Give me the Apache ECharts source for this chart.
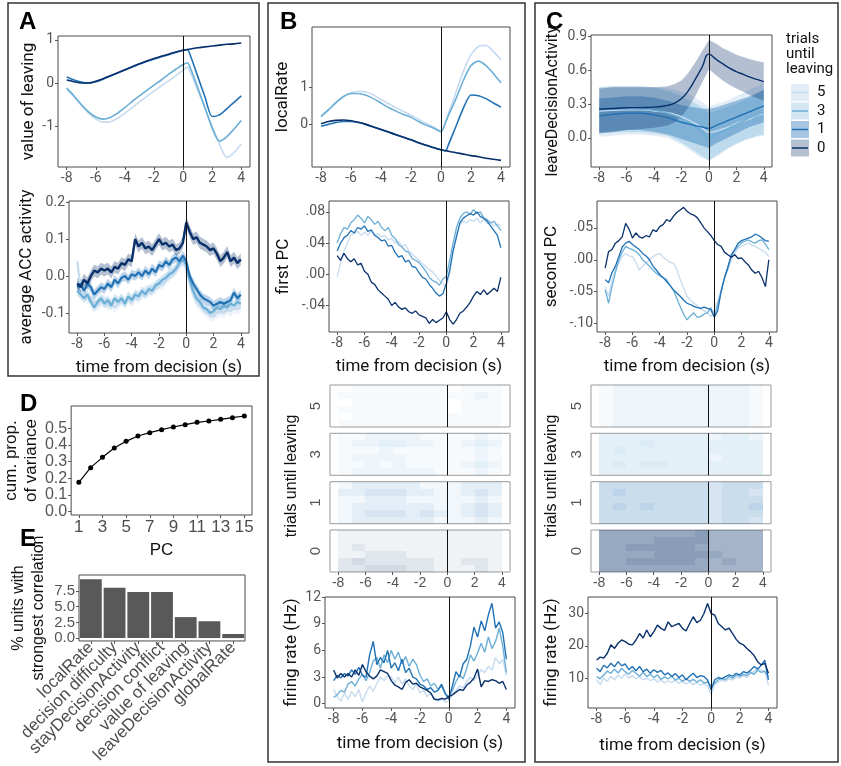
<!DOCTYPE html>
<html><head><meta charset="utf-8">
<script src="https://cdn.jsdelivr.net/npm/echarts@6/dist/echarts.min.js"></script>
<style>html,body{margin:0;padding:0;background:#fff}#c{width:841px;height:766px}</style>
</head><body><div id="c"></div>
<script>
// ---------------- DATA ----------------
const timeTicks = [-8,-6,-4,-2,0,2,4];
// smooth model curves (A top, B top)
const tS = [-8,-7.5,-7,-6.5,-6,-5.5,-5,-4.5,-4,-3.5,-3,-2.5,-2,-1.5,-1,-0.5,0,0.3,0.5,1,1.5,2,2.5,3,3.5,4];
const valueLeave0 = [0.07,0.03,0.0,0.0,0.04,0.1,0.17,0.24,0.31,0.38,0.45,0.51,0.57,0.62,0.67,0.72,0.76,0.78,0.79,0.82,0.84,0.86,0.88,0.9,0.91,0.93];
const valueLeave1 = [0.14,0.07,0.02,0.0,0.03,0.09,0.16,0.23,0.3,0.37,0.44,0.5,0.56,0.61,0.66,0.71,0.76,0.78,0.64,0.16,-0.32,-0.78,-0.74,-0.6,-0.45,-0.3];
const valueLeave3 = [-0.12,-0.3,-0.5,-0.67,-0.79,-0.84,-0.8,-0.7,-0.57,-0.43,-0.3,-0.17,-0.05,0.07,0.2,0.32,0.43,0.47,0.35,-0.1,-0.57,-1.05,-1.35,-1.25,-1.07,-0.87];
const valueLeave5 = [-0.15,-0.32,-0.52,-0.7,-0.84,-0.91,-0.9,-0.82,-0.7,-0.57,-0.44,-0.31,-0.19,-0.07,0.05,0.17,0.3,0.37,0.25,-0.17,-0.58,-1.0,-1.42,-1.73,-1.62,-1.42];
const localRate0 = [0.02,0.08,0.11,0.12,0.1,0.06,0.0,-0.07,-0.14,-0.21,-0.28,-0.35,-0.42,-0.5,-0.57,-0.63,-0.69,-0.71,-0.73,-0.77,-0.81,-0.85,-0.88,-0.92,-0.95,-0.98];
const localRate1 = [-0.05,0.0,0.05,0.08,0.08,0.05,0.0,-0.07,-0.14,-0.21,-0.28,-0.35,-0.42,-0.5,-0.57,-0.63,-0.69,-0.72,-0.55,-0.05,0.45,0.8,0.78,0.7,0.58,0.47];
const localRate3 = [0.22,0.4,0.6,0.76,0.84,0.84,0.79,0.7,0.58,0.46,0.36,0.27,0.19,0.08,-0.02,-0.1,-0.2,0.05,0.25,0.7,1.2,1.6,1.72,1.6,1.38,1.13];
const localRate5 = [0.2,0.38,0.58,0.75,0.86,0.9,0.88,0.8,0.68,0.56,0.45,0.35,0.25,0.14,0.03,-0.07,-0.18,0.05,0.3,0.88,1.45,1.9,2.12,2.15,1.98,1.76];
// C top model with ribbons
const tC = [-8,-7,-6,-5,-4,-3,-2.5,-2,-1.5,-1,-0.5,0,0.5,1,1.5,2,2.5,3,3.5,4];
const leaveAct0 = [0.255,0.262,0.268,0.27,0.274,0.29,0.31,0.35,0.42,0.52,0.63,0.745,0.70,0.66,0.62,0.59,0.565,0.54,0.52,0.5];
const leaveAct0Lo = [0.04,0.05,0.07,0.08,0.09,0.11,0.14,0.19,0.27,0.37,0.49,0.61,0.56,0.51,0.47,0.44,0.41,0.38,0.355,0.33];
const leaveAct0Hi = [0.44,0.45,0.45,0.45,0.45,0.46,0.48,0.51,0.58,0.67,0.77,0.87,0.84,0.8,0.77,0.74,0.72,0.70,0.685,0.67];
const leaveAct1 = [0.196,0.21,0.22,0.22,0.205,0.18,0.16,0.14,0.125,0.11,0.097,0.085,0.11,0.135,0.16,0.185,0.21,0.235,0.26,0.285];
const leaveAct1Lo = [0.05,0.06,0.07,0.07,0.055,0.03,0.01,-0.01,-0.03,-0.05,-0.07,-0.09,-0.05,-0.02,0.01,0.04,0.07,0.1,0.12,0.14];
const leaveAct1Hi = [0.35,0.36,0.37,0.37,0.36,0.33,0.31,0.29,0.28,0.27,0.26,0.26,0.27,0.29,0.31,0.33,0.35,0.37,0.4,0.43];
const leaveAct3 = [0.25,0.255,0.26,0.255,0.245,0.22,0.2,0.17,0.14,0.1,0.05,0.0,0.03,0.06,0.09,0.12,0.15,0.18,0.205,0.23];
const leaveAct3Lo = [0.04,0.05,0.05,0.05,0.04,0.02,-0.01,-0.04,-0.08,-0.12,-0.16,-0.2,-0.16,-0.12,-0.08,-0.05,-0.02,0.0,0.02,0.03];
const leaveAct3Hi = [0.45,0.46,0.46,0.46,0.45,0.42,0.4,0.37,0.34,0.31,0.27,0.22,0.24,0.26,0.28,0.3,0.33,0.36,0.39,0.42];
const leaveAct5 = [0.24,0.245,0.25,0.25,0.24,0.225,0.21,0.19,0.16,0.13,0.09,0.05,0.06,0.08,0.1,0.13,0.15,0.17,0.2,0.22];
const leaveAct5Lo = [0.01,0.02,0.03,0.03,0.02,0.0,-0.03,-0.06,-0.1,-0.14,-0.18,-0.2,-0.17,-0.13,-0.09,-0.06,-0.03,-0.01,0.01,0.02];
const leaveAct5Hi = [0.45,0.46,0.46,0.46,0.45,0.44,0.43,0.41,0.39,0.36,0.32,0.28,0.3,0.32,0.34,0.37,0.4,0.43,0.46,0.49];
// noisy time courses, 0.25 s steps
const tN = [-8,-7.75,-7.5,-7.25,-7,-6.75,-6.5,-6.25,-6,-5.75,-5.5,-5.25,-5,-4.75,-4.5,-4.25,-4,-3.75,-3.5,-3.25,-3,-2.75,-2.5,-2.25,-2,-1.75,-1.5,-1.25,-1,-0.75,-0.5,-0.25,0,0.25,0.5,0.75,1,1.25,1.5,1.75,2,2.25,2.5,2.75,3,3.25,3.5,3.75,4];
const acc0 = [-0.02,-0.03,-0.01,-0.02,0.0,0.015,0.01,0.02,0.015,0.02,0.01,0.025,0.02,0.035,0.03,0.045,0.04,0.1,0.08,0.09,0.075,0.08,0.07,0.085,0.1,0.085,0.09,0.08,0.085,0.07,0.075,0.09,0.145,0.12,0.1,0.105,0.09,0.085,0.08,0.07,0.075,0.06,0.04,0.05,0.065,0.04,0.05,0.035,0.045];
const acc1 = [-0.03,-0.02,-0.04,-0.02,-0.03,-0.05,-0.04,-0.03,-0.035,-0.02,-0.03,-0.01,-0.02,-0.005,0.0,-0.01,0.005,0.0,0.01,0.0,0.015,0.005,0.02,0.01,0.03,0.025,0.04,0.03,0.045,0.05,0.04,0.055,0.04,0.0,-0.02,-0.035,-0.05,-0.06,-0.065,-0.07,-0.08,-0.075,-0.07,-0.075,-0.07,-0.065,-0.045,-0.06,-0.05];
const acc3 = [-0.04,-0.05,-0.06,-0.05,-0.07,-0.085,-0.07,-0.06,-0.075,-0.065,-0.08,-0.06,-0.07,-0.06,-0.075,-0.055,-0.065,-0.05,-0.055,-0.04,-0.05,-0.035,-0.04,-0.025,-0.02,-0.01,-0.005,0.005,0.01,0.02,0.035,0.045,0.03,-0.01,-0.04,-0.06,-0.07,-0.085,-0.09,-0.1,-0.095,-0.085,-0.09,-0.08,-0.085,-0.075,-0.08,-0.07,-0.075];
const acc5 = [0.04,-0.03,-0.05,-0.06,-0.055,-0.07,-0.08,-0.07,-0.065,-0.08,-0.07,-0.085,-0.075,-0.065,-0.07,-0.06,-0.07,-0.055,-0.06,-0.05,-0.04,-0.045,-0.03,-0.035,-0.02,-0.025,-0.01,0.0,0.01,0.015,0.03,0.04,0.02,-0.02,-0.05,-0.07,-0.08,-0.09,-0.1,-0.105,-0.11,-0.1,-0.095,-0.1,-0.09,-0.095,-0.085,-0.09,-0.085];
const accSE = [0.016, 0.013, 0.013, 0.015]; // ribbon half-widths for groups 0,1,3,5
const pc1_0 = [0.024,0.018,0.027,0.02,0.016,0.02,0.012,0.014,0.004,0.0,-0.01,-0.013,-0.02,-0.024,-0.028,-0.032,-0.04,-0.036,-0.042,-0.045,-0.043,-0.048,-0.05,-0.047,-0.052,-0.054,-0.056,-0.063,-0.058,-0.062,-0.059,-0.056,-0.048,-0.058,-0.064,-0.058,-0.05,-0.047,-0.042,-0.036,-0.028,-0.022,-0.026,-0.02,-0.026,-0.022,-0.018,-0.022,-0.004];
const pc1_1 = [0.03,0.04,0.047,0.05,0.056,0.053,0.06,0.058,0.062,0.055,0.057,0.05,0.047,0.043,0.044,0.036,0.037,0.028,0.022,0.024,0.016,0.018,0.01,0.009,0.002,-0.004,-0.006,-0.013,-0.018,-0.024,-0.028,-0.025,-0.012,0.005,0.03,0.048,0.066,0.072,0.075,0.078,0.076,0.08,0.074,0.072,0.068,0.062,0.056,0.05,0.034];
const pc1_3 = [0.04,0.052,0.06,0.058,0.066,0.07,0.076,0.072,0.066,0.074,0.07,0.064,0.068,0.06,0.056,0.06,0.05,0.046,0.038,0.035,0.03,0.028,0.02,0.018,0.015,0.01,0.004,-0.004,-0.008,-0.01,-0.014,-0.006,-0.003,0.018,0.04,0.06,0.072,0.078,0.08,0.077,0.083,0.078,0.08,0.072,0.07,0.066,0.068,0.062,0.056];
const pc1_5 = [-0.003,0.015,0.03,0.04,0.05,0.052,0.055,0.05,0.054,0.05,0.056,0.05,0.052,0.048,0.05,0.044,0.046,0.04,0.042,0.036,0.038,0.03,0.026,0.022,0.018,0.014,0.01,0.006,0.003,-0.002,-0.008,-0.012,-0.016,0.0,0.03,0.052,0.064,0.068,0.066,0.07,0.068,0.072,0.066,0.07,0.065,0.066,0.062,0.064,0.062];
const rateB0 = [3.8,2.9,3.4,3.0,3.4,3.0,3.8,3.2,4.4,3.6,3.1,2.8,3.1,3.8,3.6,3.4,2.6,2.1,1.9,1.6,2.4,2.7,2.2,2.3,1.9,1.7,1.5,1.2,0.5,0.45,0.6,0.5,0.8,1.0,1.3,1.6,1.5,2.1,2.4,2.9,3.9,1.9,2.6,2.5,2.7,2.6,2.3,2.5,1.6];
const rateB1 = [2.6,3.2,2.9,3.4,3.1,3.8,3.3,4.1,3.2,3.0,5.5,7.0,4.4,5.2,4.6,6.0,4.0,4.6,3.7,5.0,3.5,4.0,3.0,2.8,2.2,2.0,1.6,1.8,1.3,1.5,2.2,1.2,0.5,2.0,3.6,3.0,4.5,5.0,6.5,8.6,7.5,9.3,8.2,10.0,11.3,8.5,9.2,8.0,5.0];
const rateB3 = [0.7,1.0,1.5,1.3,2.2,2.5,2.0,2.8,3.3,2.6,3.5,4.8,5.2,4.0,5.5,4.6,6.0,5.0,5.8,4.5,5.3,4.2,5.0,4.4,3.2,2.5,2.8,2.0,2.3,1.6,2.0,1.1,0.8,1.5,2.5,3.2,2.8,4.0,5.5,4.8,5.7,6.8,5.8,7.5,6.2,7.0,8.5,6.5,3.5];
const rateB5 = [1.6,0.8,0.3,1.2,0.5,1.4,0.8,1.6,0.2,1.2,2.0,1.4,2.3,3.0,2.6,3.2,3.0,2.4,3.0,2.2,2.8,2.0,1.6,2.2,1.2,1.5,0.8,1.2,0.6,0.3,0.5,0.2,0.3,1.0,1.5,2.0,1.8,2.5,3.0,2.6,3.2,3.8,3.5,4.2,3.8,5.2,4.5,5.0,3.2];
const pc2_0 = [-0.013,0.013,0.016,0.026,0.03,0.036,0.057,0.048,0.034,0.042,0.036,0.034,0.038,0.036,0.047,0.044,0.052,0.055,0.063,0.06,0.068,0.074,0.078,0.082,0.076,0.072,0.07,0.066,0.058,0.05,0.044,0.038,0.03,0.024,0.021,0.012,0.008,0.004,0.008,0.002,0.003,-0.003,-0.008,-0.016,-0.021,-0.018,-0.028,-0.042,0.0];
const pc2_1 = [-0.031,-0.036,-0.02,-0.01,0.005,0.02,0.026,0.029,0.024,0.02,0.016,0.01,0.006,0.0,-0.01,-0.016,-0.023,-0.028,-0.034,-0.04,-0.047,-0.052,-0.057,-0.063,-0.068,-0.07,-0.073,-0.075,-0.076,-0.074,-0.076,-0.078,-0.09,-0.08,-0.05,-0.028,-0.012,0.008,0.016,0.026,0.03,0.032,0.034,0.036,0.04,0.038,0.034,0.03,0.029];
const pc2_3 = [-0.047,-0.068,-0.042,-0.02,0.0,0.012,0.021,0.018,0.016,0.013,0.008,0.0,-0.005,-0.01,-0.016,-0.021,-0.025,-0.028,-0.031,-0.04,-0.047,-0.06,-0.073,-0.085,-0.094,-0.088,-0.083,-0.09,-0.089,-0.085,-0.083,-0.075,-0.089,-0.07,-0.05,-0.028,-0.01,0.005,0.015,0.021,0.027,0.029,0.031,0.028,0.026,0.03,0.031,0.025,0.016];
const pc2_5 = [-0.042,-0.057,-0.031,-0.015,-0.005,0.005,0.01,0.006,0.005,-0.004,-0.016,-0.01,-0.005,0.0,0.005,0.008,0.01,0.004,0.0,-0.004,-0.005,-0.015,-0.031,-0.044,-0.057,-0.063,-0.068,-0.072,-0.076,-0.08,-0.083,-0.089,-0.078,-0.065,-0.047,-0.03,-0.016,0.0,0.01,0.018,0.021,0.024,0.026,0.023,0.021,0.018,0.015,0.012,0.005];
const rateC0 = [15.6,16.5,16.2,17.7,20.3,19.2,20.8,21.8,21.3,20.5,20.3,21.8,23.8,22.4,24.9,22.8,24.4,26.4,25.4,24.8,27.4,25.9,26.5,26.9,25.4,24.6,26.9,29.0,27.2,27.9,30.0,33.1,30.0,29.5,26.9,25.9,24.9,25.5,23.8,22.0,20.8,20.3,19.2,18.2,17.0,15.1,14.1,14.6,11.5];
const rateC1 = [13.1,12.0,14.0,13.2,14.6,13.5,15.1,13.8,14.4,12.6,13.6,12.3,13.6,12.0,12.8,11.5,12.6,11.8,12.4,11.0,11.6,10.5,11.4,10.2,11.0,9.5,10.6,11.5,10.2,10.8,10.5,9.4,6.4,9.5,10.2,9.8,10.5,11.0,10.6,11.5,11.0,12.0,11.6,12.4,13.6,12.8,14.0,15.6,9.5];
const rateC3 = [10.5,9.8,11.0,12.2,11.5,12.8,11.6,13.0,12.0,11.2,12.4,11.5,10.6,11.8,10.5,11.2,10.2,11.0,9.6,10.4,9.8,10.6,9.4,10.0,9.0,9.8,9.0,9.6,8.8,9.5,8.5,8.8,7.5,8.5,9.5,10.0,9.5,10.5,10.0,11.0,10.6,11.2,10.8,11.8,11.2,12.5,11.8,12.2,10.5];
const rateC5 = [9.5,8.0,10.0,9.0,10.5,9.5,11.0,10.0,11.5,10.0,10.8,9.8,10.5,9.5,10.0,9.2,9.8,8.8,9.5,8.5,9.2,8.6,9.4,8.4,9.0,8.2,8.8,8.0,8.6,7.8,8.4,7.5,5.0,8.0,8.8,9.4,9.0,9.8,9.4,10.4,10.0,10.8,10.2,11.5,12.0,13.2,12.5,12.0,8.0];
// spike raster densities (rows top->bottom, 1-s bins from -8 to 4; digit = density 0-9)
const rasterBins = [-8,-7,-6,-5,-4,-3,-2,-1,0,1,2,3];
const rasterB5 = ['011111110111','111111111121','011111110111','111111110111','011111111111','111111111111'];
const rasterB3 = ['112222111121','122332211232','111211111121','122221111121','112121111232','122222211121'];
const rasterB1 = ['122222111222','223332211232','112221111121','122222211232','123332321232','122222211121'];
const rasterB0 = ['111111111111','111111111111','121111111111','112221111111','232222211221','223332211121'];
const rasterC5 = ['122222222221','122222222221','122222222221','122222222221','122222222221','122222222221'];
const rasterC3 = ['333333332332','333433333333','343333333333','333333332333','343443333333','333333333333'];
const rasterC1 = ['444444443444','454444443443','444444443444','454544443445','444444443444','444444443443'];
const rasterC0 = ['777777786666','777788886666','778888876666','777788887666','778888876766','777777776666'];
// D
const pcIndex = [1,2,3,4,5,6,7,8,9,10,11,12,13,14,15];
const cumVar = [0.176,0.264,0.326,0.382,0.422,0.454,0.474,0.492,0.508,0.522,0.536,0.544,0.554,0.564,0.574];
// E
const corrCats = ['localRate','decision difficulty','stayDecisionActivity','decision conflict','value of leaving','leaveDecisionActivity','globalRate'];
const corrPct = [9.38,8.0,7.35,7.35,3.34,2.68,0.65];
const groupLabels = ['5','3','1','0'];

// ---------------- STYLE / BUILDERS ----------------
const FONT = 'Roboto, "Liberation Sans", sans-serif';
const FONT2 = '"Liberation Sans", Arial, sans-serif';
const C0='#08306b', C1='#2171b5', C3='#6baed6', C5='#c6dbef';
const grids=[], xAxes=[], yAxes=[], series=[];
function addGrid(l,t,r,b,border){ grids.push({left:l,top:t,width:r-l,height:b-t,show:true,borderColor:border||'#4a4a4a',borderWidth:1,backgroundColor:'rgba(0,0,0,0)',containLabel:false}); return grids.length-1; }
function xTime(gi,o){ o=o||{}; const show=o.labels!==false; return {gridIndex:gi,type:'value',min:-8.6,max:4.6,axisLine:{show:false,onZero:false},splitLine:{show:false},
  axisTick:{show:show,length:3,lineStyle:{color:'#555'},customValues:timeTicks},
  axisLabel:{show:show,customValues:timeTicks,color:'#555',fontSize:o.fs||14,fontFamily:o.font||FONT,margin:4,hideOverlap:false,showMinLabel:true,showMaxLabel:true},
  name:o.name||'',nameLocation:'middle',nameGap:o.gap||20,nameTextStyle:{color:'#111',fontSize:17,fontFamily:FONT}}; }
function yVal(gi,min,max,ticks,fmt,name,gap,o){ o=o||{}; return {gridIndex:gi,type:'value',min:min,max:max,axisLine:{show:false,onZero:false},splitLine:{show:false},
  axisTick:{show:true,length:3,lineStyle:{color:'#555'},customValues:ticks},
  axisLabel:{customValues:ticks,formatter:fmt,color:'#555',fontSize:o.fs||14,lineHeight:o.lh||16,fontFamily:o.font||FONT,margin:4,hideOverlap:false,interval:0,showMinLabel:true,showMaxLabel:true},
  name:name,nameLocation:'middle',nameGap:gap,nameTextStyle:{color:'#111',fontSize:o.nfs||17,fontFamily:o.font||FONT,lineHeight:20}}; }
function pair(t,v){ return t.map((x,i)=>[x,v[i]]); }
function lineS(gi,t,v,color,width,smooth){ return {type:'line',xAxisIndex:gi,yAxisIndex:gi,data:pair(t,v),symbol:'none',showSymbol:false,smooth:smooth||false,
  lineStyle:{color:color,width:width},itemStyle:{color:color},silent:true,clip:true,z:3}; }
function bandS(gi,t,lo,hi,color,opacity){ return {type:'custom',xAxisIndex:gi,yAxisIndex:gi,data:t.map((x,i)=>[x,lo[i],hi[i]]),clip:true,silent:true,z:2,
  encode:{x:0,y:[1,2]},
  renderItem:function(p,api){ if(p.dataIndexInside!==0) return null; const n=p.dataInsideLength; const up=[],dn=[];
    for(let j=0;j<n;j++){ up.push(api.coord([api.value(0,j),api.value(2,j)])); dn.push(api.coord([api.value(0,j),api.value(1,j)])); }
    return {type:'polygon',shape:{points:up.concat(dn.reverse())},style:{fill:color,opacity:opacity}}; }}; }
function zeroLine(gi){ return {type:'line',xAxisIndex:gi,yAxisIndex:gi,data:[],silent:true,z:5,
  markLine:{silent:true,symbol:['none','none'],label:{show:false},lineStyle:{color:'#111',width:1,type:'solid'},data:[{xAxis:0}]}}; }
function rasterS(gi,rows,color){ const data=[]; rows.forEach((s,r)=>{ for(let k=0;k<s.length;k++) data.push([rasterBins[k],rows.length-1-r,+s[k]]); });
  return {type:'custom',xAxisIndex:gi,yAxisIndex:gi,data:data,clip:true,silent:true,encode:{x:0,y:1},
    renderItem:function(p,api){ const t=api.value(0),r=api.value(1),lv=api.value(2); const a=api.coord([t,r+1]), b=api.coord([t+1,r]);
      const x0=Math.round(a[0]), y0=Math.round(a[1]), x1=Math.round(b[0]), y1=Math.round(b[1]);
      return {type:'rect',shape:{x:x0,y:y0,width:x1-x0,height:y1-y0},style:{fill:color,opacity:lv*0.06}}; }}; }
const f1 = v=>v.toFixed(1), f0 = v=>String(Math.round(v));
const fpc = v=>(v<-1e-9?'-':'')+Math.abs(v).toFixed(2).replace(/^0/,'');

// ---- Panel A top ----
let g = addGrid(58,36,250,167);
xAxes.push(xTime(g)); yAxes.push(yVal(g,-1.953,1.093,[-1,0,1],f0,'value of leaving',19));
series.push(lineS(g,tS,valueLeave5,C5,1.6,0.25), lineS(g,tS,valueLeave3,C3,1.6,0.25), lineS(g,tS,valueLeave1,C1,1.6,0.25), lineS(g,tS,valueLeave0,C0,1.6,0.25), zeroLine(g));
// ---- Panel A bottom ----
g = addGrid(69,201,249,333);
xAxes.push(xTime(g,{name:'time from decision (s)',gap:26})); yAxes.push(yVal(g,-0.154,0.203,[-0.1,0,0.1,0.2],f1,'average ACC activity',32));
[[acc5,C5,accSE[3]],[acc3,C3,accSE[2]],[acc1,C1,accSE[1]],[acc0,C0,accSE[0]]].forEach(([v,c,se])=>{
  series.push(bandS(g,tN,v.map(x=>x-se),v.map(x=>x+se),c,0.3)); });
series.push(lineS(g,tN,acc5,C5,2.2), lineS(g,tN,acc3,C3,2.2), lineS(g,tN,acc1,C1,2.2), lineS(g,tN,acc0,C0,2.4), zeroLine(g));
// ---- Panel B top ----
g = addGrid(312,27,510,167);
xAxes.push(xTime(g)); yAxes.push(yVal(g,-1.16,2.65,[0,1],f0,'localRate',19));
series.push(lineS(g,tS,localRate5,C5,1.6,0.25), lineS(g,tS,localRate3,C3,1.6,0.25), lineS(g,tS,localRate1,C1,1.6,0.25), lineS(g,tS,localRate0,C0,1.6,0.25), zeroLine(g));
// ---- Panel B first PC ----
g = addGrid(329,201,509,332);
xAxes.push(xTime(g,{name:'time from decision (s)',gap:26})); yAxes.push(yVal(g,-0.074,0.094,[-0.04,0,0.04,0.08],fpc,'first PC',35));
series.push(lineS(g,tN,pc1_5,C5,1.3), lineS(g,tN,pc1_3,C3,1.3), lineS(g,tN,pc1_1,C1,1.3), lineS(g,tN,pc1_0,C0,1.3), zeroLine(g));
// ---- Rasters ----
function rasterPanel(l,r,top,rows,color,label,last){
  const gi = addGrid(l,top,r,top+42,'#9a9a9a');
  xAxes.push(xTime(gi,{labels:last,font:FONT2,fs:14}));
  yAxes.push({gridIndex:gi,type:'value',min:0,max:6,axisLine:{show:false,onZero:false},axisTick:{show:false},axisLabel:{show:false},splitLine:{show:false},
    name:label,nameLocation:'middle',nameGap:7,nameTextStyle:{color:'#555',fontSize:15,fontFamily:FONT2}});
  series.push(rasterS(gi,rows,color), zeroLine(gi));
}
const rTops = [385,433.3,481.7,530];
[[rasterB5,C3,'5'],[rasterB3,C3,'3'],[rasterB1,C1,'1'],[rasterB0,C0,'0']].forEach((d,i)=>rasterPanel(330,510,rTops[i],d[0],d[1],d[2],i===3));
[[rasterC5,C3,'5'],[rasterC3,C3,'3'],[rasterC1,C1,'1'],[rasterC0,C0,'0']].forEach((d,i)=>rasterPanel(591,771,rTops[i],d[0],d[1],d[2],i===3));
// ---- Panel B firing ----
g = addGrid(325,597,515,708);
xAxes.push(xTime(g,{name:'time from decision (s)',gap:27})); yAxes.push(yVal(g,-0.48,12,[0,3,6,9,12],f0,'firing rate (Hz)',23));
series.push(lineS(g,tN,rateB5,C5,1.4), lineS(g,tN,rateB3,C3,1.4), lineS(g,tN,rateB1,C1,1.4), lineS(g,tN,rateB0,C0,1.4), zeroLine(g));
// ---- Panel C top ----
g = addGrid(591,35,772,167);
xAxes.push(xTime(g)); yAxes.push(yVal(g,-0.258,0.915,[0,0.3,0.6,0.9],f1,'leaveDecisionActivity',28,{nfs:16}));
series.push(bandS(g,tC,leaveAct5Lo,leaveAct5Hi,C5,0.5), bandS(g,tC,leaveAct3Lo,leaveAct3Hi,C3,0.3), bandS(g,tC,leaveAct1Lo,leaveAct1Hi,C1,0.4), bandS(g,tC,leaveAct0Lo,leaveAct0Hi,C0,0.3));
series.push(lineS(g,tC,leaveAct5,C5,1.4,true), lineS(g,tC,leaveAct3,C3,1.4,true), lineS(g,tC,leaveAct1,C1,1.4,true), lineS(g,tC,leaveAct0,C0,1.4,true), zeroLine(g));
// ---- Panel C second PC ----
g = addGrid(597,201,777,332);
xAxes.push(xTime(g,{name:'time from decision (s)',gap:26})); yAxes.push(yVal(g,-0.113,0.092,[-0.1,-0.05,0,0.05],fpc,'second PC',35));
series.push(lineS(g,tN,pc2_5,C5,1.3), lineS(g,tN,pc2_3,C3,1.3), lineS(g,tN,pc2_1,C1,1.3), lineS(g,tN,pc2_0,C0,1.3), zeroLine(g));
// ---- Panel C firing ----
g = addGrid(588,597,777,708);
xAxes.push(xTime(g,{name:'time from decision (s)',gap:29})); yAxes.push(yVal(g,0.77,35.1,[10,20,30],f0,'firing rate (Hz)',26));
series.push(lineS(g,tN,rateC5,C5,1.4), lineS(g,tN,rateC3,C3,1.4), lineS(g,tN,rateC1,C1,1.4), lineS(g,tN,rateC0,C0,1.4), zeroLine(g));
// ---- Panel D ----
g = addGrid(70,406,252,515);
xAxes.push({gridIndex:g,type:'value',min:0.35,max:15.65,axisLine:{show:false,onZero:false},splitLine:{show:false},
  axisTick:{show:true,length:3,lineStyle:{color:'#555'},customValues:[1,3,5,7,9,11,13,15]},
  axisLabel:{customValues:[1,3,5,7,9,11,13,15],color:'#4d4d4d',fontSize:17,fontFamily:FONT2,margin:4,hideOverlap:false,showMinLabel:true,showMaxLabel:true},
  name:'PC',nameLocation:'middle',nameGap:27,nameTextStyle:{color:'#111',fontSize:17,fontFamily:FONT2}});
yAxes.push(yVal(g,-0.02,0.634,[0,0.1,0.2,0.3,0.4,0.5],f1,'cum. prop.\nof variance',29,{fs:16,lh:14,font:FONT2}));
series.push({type:'line',xAxisIndex:g,yAxisIndex:g,data:pair(pcIndex,cumVar),symbol:'circle',symbolSize:5,lineStyle:{color:'#000',width:1.2},itemStyle:{color:'#000'},silent:true});
// ---- Panel E ----
g = addGrid(79,575,245,644);
xAxes.push({gridIndex:g,type:'category',data:corrCats,axisLine:{show:false,onZero:false},splitLine:{show:false},
  axisTick:{show:true,length:3,alignWithLabel:true,lineStyle:{color:'#555'}},
  axisLabel:{interval:0,rotate:45,color:'#4d4d4d',fontSize:17,fontFamily:FONT2,margin:4,hideOverlap:false}});
yAxes.push(yVal(g,-0.46,10.04,[0,2.5,5,7.5],f1,'% units with\nstrongest correlation',30,{fs:15,lh:13,font:FONT2,nfs:16}));
series.push({type:'bar',xAxisIndex:g,yAxisIndex:g,data:corrPct,barCategoryGap:'8%',itemStyle:{color:'#595959'},silent:true});

// ---------------- GRAPHIC (frames, letters, legend) ----------------
const gr = [];
[[8,3,251,373],[268,3,257,759],[535,3,303,759]].forEach(b=>gr.push({type:'rect',shape:{x:b[0],y:b[1],width:b[2],height:b[3]},style:{fill:'none',stroke:'#333',lineWidth:1.5},silent:true}));
[['A',19,10],['B',280,10],['C',546,10],['D',20,392],['E',20,527]].forEach(a=>gr.push({type:'text',x:a[1],y:a[2],silent:true,style:{text:a[0],font:'bold 24px "Liberation Sans", Arial, sans-serif',fill:'#000',verticalAlign:'top'}}));
[[292,476],[552,476]].forEach(p=>gr.push({type:'text',x:p[0],y:p[1],rotation:Math.PI/2,silent:true,style:{text:'trials until leaving',font:'16px '+FONT2,fill:'#111',align:'center',verticalAlign:'middle'}}));
gr.push({type:'text',x:786,y:32,silent:true,style:{text:'trials\nuntil\nleaving',font:'15px '+FONT,fill:'#111',lineHeight:15,verticalAlign:'top'}});
const keyFill=[[C5,0.5],[C3,0.3],[C1,0.4],[C0,0.3]], keyLine=[C5,C3,C1,C0];
groupLabels.forEach((lab,i)=>{ const y=84+i*18.5;
  gr.push({type:'rect',shape:{x:791,y:y,width:18,height:17},style:{fill:keyFill[i][0],opacity:keyFill[i][1]},silent:true});
  gr.push({type:'line',shape:{x1:792,y1:y+8.5,x2:808,y2:y+8.5},style:{stroke:keyLine[i],lineWidth:1.5},silent:true});
  gr.push({type:'text',x:817,y:y+8.5,silent:true,style:{text:lab,font:'15px '+FONT,fill:'#111',verticalAlign:'middle'}});
});

const chart = echarts.init(document.getElementById('c'),null,{renderer:'canvas',width:841,height:766});
chart.setOption({animation:false,backgroundColor:'#fff',grid:grids,xAxis:xAxes,yAxis:yAxes,series:series,graphic:gr});
</script></body></html>
